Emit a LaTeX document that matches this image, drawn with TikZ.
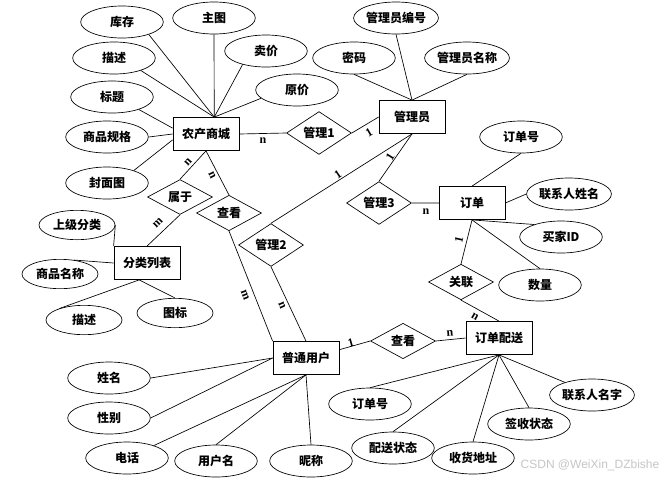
\documentclass[tikz,border=0pt]{standalone}
\usepackage{fontspec}
\setmainfont{Liberation Serif}
\newfontfamily\cjk{Noto Sans CJK SC}
\newfontfamily\wmfont{Liberation Sans}
\usetikzlibrary{shapes.geometric}
\begin{document}
\begin{tikzpicture}[x=0.75pt,y=-0.75pt,
  every node/.style={font=\cjk\bfseries\fontsize{9}{10}\selectfont, inner sep=0pt},
  ent/.style={draw, rectangle, minimum width=49.5pt, minimum height=24.75pt, line width=0.6pt},
  rel/.style={draw, diamond, minimum width=48.75pt, minimum height=24.75pt, line width=0.5pt},
  attr/.style={draw, ellipse, minimum width=62pt, minimum height=24pt, line width=0.5pt},
  attrs/.style={draw, ellipse, minimum width=57pt, minimum height=22pt, line width=0.5pt},
  lbl/.style={font=\rmfamily\bfseries\fontsize{9}{10}\selectfont},
  conn/.style={line width=0.5pt},
  gconn/.style={line width=1.3pt, draw=gray!70}
]
\fill[white] (0,0) rectangle (666,479);
\path[use as bounding box] (0,0) rectangle (666,479);

% entities
\node[ent] (ncsc) at (206,134) {农产商城};
\node[ent] (gly)  at (412,117) {管理员};
\node[ent] (dd)   at (472,203) {订单};
\node[ent] (fllb) at (147,263) {分类列表};
\node[ent] (ptyh) at (306,358) {普通用户};
\node[ent] (ddps) at (499,338) {订单配送};

% relationships
\node[rel] (r1)  at (319,133) {管理1};
\node[rel] (sy)  at (180,197) {属于};
\node[rel] (ck1) at (229,213) {查看};
\node[rel] (r2)  at (271,245) {管理2};
\node[rel] (r3)  at (379,203) {管理3};
\node[rel] (gl)  at (461,282) {关联};
\node[rel] (ck2) at (403,341) {查看};

% attributes
\node[attr] (kc)  at (122,22) {库存};
\node[attr] (zt)  at (214,18) {主图};
\node[attr] (mj)  at (266,51) {卖价};
\node[attr] (ms1) at (114,58) {描述};
\node[attr] (yj)  at (297,90) {原价};
\node[attr] (bt)  at (112,97) {标题};
\node[attr] (spgg) at (107,137) {商品规格};
\node[attr] (fmt) at (107,183) {封面图};

\node[attrs] (sjfl) at (77,225) {上级分类};
\node[attrs] (spmc) at (60,274) {商品名称};
\node[attrs] (ms2)  at (84,320) {描述};
\node[attrs] (tb)   at (175,313) {图标};

\node[attr] (glybh) at (396,18) {管理员编号};
\node[attr] (mm)    at (354,58) {密码};
\node[attr] (glymc) at (467,58) {管理员名称};

\node[attr] (ddh1)  at (521,137) {订单号};
\node[attr] (lxrxm) at (569,194) {联系人姓名};
\node[attr] (mjid)  at (561,237) {买家ID};
\node[attr] (sl)    at (540,285) {数量};

\node[attr] (lxrmz) at (592,395) {联系人名字};
\node[attr] (qszt)  at (529,424) {签收状态};
\node[attr] (ddh2)  at (370,404) {订单号};
\node[attr] (pszt)  at (393,448) {配送状态};
\node[attr] (shdz)  at (473,458) {收货地址};

\node[attr] (xm)  at (109,378) {姓名};
\node[attr] (xb)  at (109,418) {性别};
\node[attr] (dh)  at (127,458) {电话};
\node[attr] (yhm) at (216,461) {用户名};
\node[attr] (nc)  at (311,461) {昵称};

% attribute connectors
\draw[conn] (ncsc.64) -- (kc.-25);
\draw[conn] (ncsc.64) -- (zt.south);
\draw[conn] (ncsc.64) -- (mj.-150);
\draw[conn] (ncsc.64) -- (ms1.-25);
\draw[conn] (ncsc.64) -- (yj.-167);
\draw[conn] (ncsc.170) -- (bt.-25);
\draw[conn] (ncsc.west) -- (spgg.east);
\draw[conn] (ncsc.190) -- (fmt.25);

\draw[conn] (sjfl.east) -- (fllb.north west);
\draw[conn] (fllb.west) -- (spmc.45);
\draw[conn] (fllb.245) -- (ms2.155);
\draw[conn] (fllb.245) -- (tb.north);

\draw[conn] (gly.north) -- (glybh.south);
\draw[conn] (gly.north) -- (mm.south);
\draw[conn] (gly.north) -- (glymc.south);

\draw[conn] (dd.north) -- (ddh1.south);
\draw[conn] (dd.east) -- (lxrxm.west);
\draw[conn] (dd.south) -- (mjid.155);
\draw[conn] (dd.south) -- (sl.north);

\draw[conn] (ddps.south) -- (ddh2.north);
\draw[conn] (ddps.south) -- (pszt.north);
\draw[conn] (ddps.south) -- (shdz.north);
\draw[conn] (ddps.south) -- (qszt.north);
\draw[conn] (ddps.south) -- (lxrmz.155);

\draw[conn] (ptyh.west) -- (xm.east);
\draw[conn] (ptyh.west) -- (xb.east);
\draw[conn] (ptyh.south) -- (dh);
\draw[conn] (ptyh.south) -- (yhm.north);
\draw[conn] (ptyh.south) -- (nc.north);

% relationship connectors
\draw[conn] (ncsc.east) -- (r1.west);
\draw[conn] (r1.east) -- (gly.west);
\draw[conn] (ncsc.south) -- (sy.north);
\draw[conn] (ncsc.south) -- (ck1.north);
\draw[conn] (sy.south) -- (fllb.north);
\draw[conn] (ck1.south) -- (ptyh.north west);
\draw[conn] (gly.south) -- (r2.north);
\draw[conn] (gly.south) -- (r3.north);
\draw[conn] (r2.south) -- (ptyh.north);
\draw[gconn] (r3.east) -- (dd.west);
\draw[conn] (dd.south) -- (gl.north);
\draw[conn] (gl.south) -- (ddps.north);
\draw[conn] (ptyh.14) -- (ck2.west);
\draw[conn] (ck2.east) -- (ddps.west);

% cardinality labels
\node[lbl] (l1) at (263,141) {n};
\node[lbl, rotate=30] (l2) at (369,133) {1};
\node[lbl, rotate=47] (l3) at (188,162) {n};
\node[lbl, rotate=-64] (l4) at (212,175) {n};
\node[lbl, rotate=45] (l5) at (158,223) {m};
\node[lbl, rotate=-69] (l6) at (245,295) {m};
\node[lbl, rotate=-67] (l7) at (282,305) {n};
\node[lbl, rotate=34] (l8) at (338,175) {1};
\node[lbl, rotate=58] (l9) at (390,157) {1};
\node[lbl] (l10) at (426,212) {n};
\node[lbl, rotate=77] (l11) at (459,240) {1};
\node[lbl, rotate=-30] (l12) at (475,317) {n};
\node[lbl, rotate=16] (l13) at (351,343) {1};
\node[lbl, rotate=5] (l14) at (450,333) {n};

% watermark
\node[font=\wmfont\fontsize{9}{10}\selectfont, text=gray!45] (wm) at (590,465) {CSDN @WeiXin\_DZbishe};
\end{tikzpicture}
\end{document}
